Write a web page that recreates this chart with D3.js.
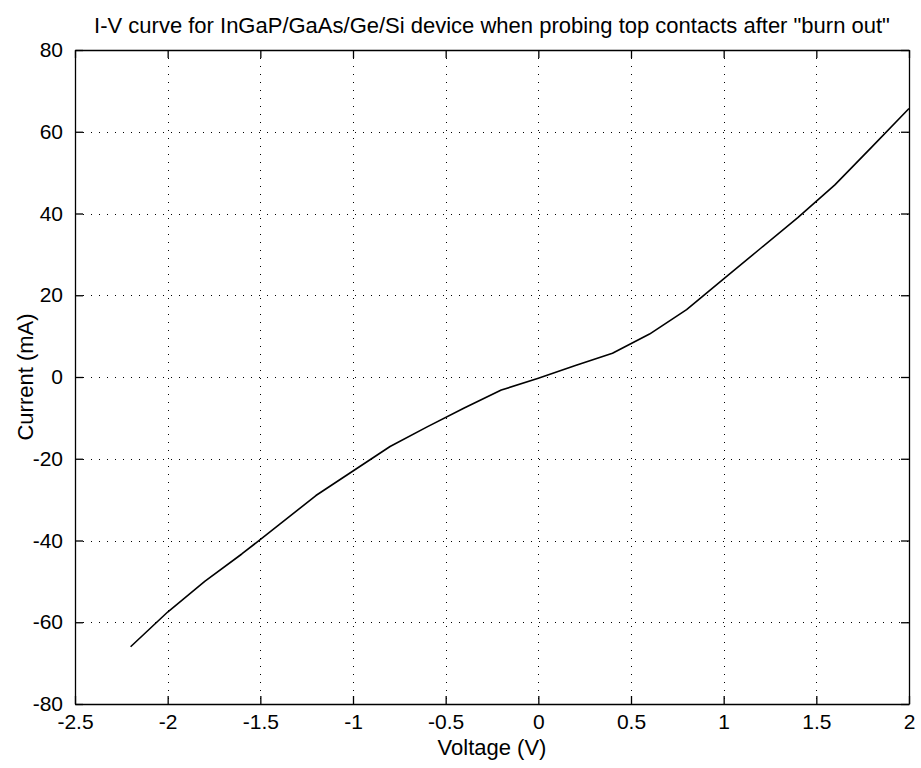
<!DOCTYPE html>
<html>
<head>
<meta charset="utf-8">
<script src="https://cdn.jsdelivr.net/npm/d3@7"></script>
<style>
  html, body { margin: 0; padding: 0; background: #fff; }
  svg { display: block; }
  text { font-family: "Liberation Sans", Arial, Helvetica, sans-serif; fill: #000; }
</style>
</head>
<body>
<svg id="chart" width="921" height="768"></svg>
<script>
// ---- data ----
const voltage = [-2.2, -2.0, -1.8, -1.6, -1.4, -1.2, -1.0, -0.8, -0.6, -0.4, -0.2, 0.0, 0.2, 0.4, 0.6, 0.8, 1.0, 1.2, 1.4, 1.6, 1.8, 2.0];
const current = [-66, -57.5, -50, -43.3, -36.2, -29, -23, -17, -12.2, -7.6, -3.2, -0.3, 2.8, 5.8, 10.5, 16.5, 24, 31.5, 39, 47, 56.3, 65.7];
const xTicks = [-2.5, -2, -1.5, -1, -0.5, 0, 0.5, 1, 1.5, 2];
const yTicks = [-80, -60, -40, -20, 0, 20, 40, 60, 80];
const titleText = 'I-V curve for InGaP/GaAs/Ge/Si device when probing top contacts after "burn out"';
const xLabel = "Voltage (V)";
const yLabel = "Current (mA)";

// ---- layout ----
const svg = d3.select("#chart");
const L = 75, R = 909, T = 50, B = 704;
const x = d3.scaleLinear().domain([-2.5, 2]).range([L, R]);
const y = d3.scaleLinear().domain([-80, 80]).range([B, T]);
const tickLen = 8;
const fs = 21;
const fmt = d => String(d);

// grid
const grid = svg.append("g").attr("stroke", "#000").attr("stroke-width", 1)
  .attr("stroke-dasharray", "1,7").attr("shape-rendering", "crispEdges");
grid.selectAll("line.v").data(xTicks.slice(1, -1)).join("line")
  .attr("x1", d => Math.round(x(d)) + 0.5).attr("x2", d => Math.round(x(d)) + 0.5)
  .attr("y1", T).attr("y2", B);
grid.selectAll("line.h").data(yTicks.slice(1, -1)).join("line")
  .attr("y1", d => Math.round(y(d)) + 0.5).attr("y2", d => Math.round(y(d)) + 0.5)
  .attr("x1", L).attr("x2", R);

// axes with inward ticks
const xAxisB = d3.axisBottom(x).tickValues(xTicks).tickSizeInner(-tickLen).tickSizeOuter(0).tickPadding(tickLen + 5).tickFormat(fmt);
const xAxisT = d3.axisTop(x).tickValues(xTicks).tickSizeInner(-tickLen).tickSizeOuter(0).tickFormat("");
const yAxisL = d3.axisLeft(y).tickValues(yTicks).tickSizeInner(-tickLen).tickSizeOuter(0).tickPadding(tickLen + 4).tickFormat(fmt);
const yAxisR = d3.axisRight(y).tickValues(yTicks).tickSizeInner(-tickLen).tickSizeOuter(0).tickFormat("");

function style(g) {
  g.selectAll("path").attr("stroke", "#000").attr("stroke-width", 1.3);
  g.selectAll("line").attr("stroke", "#000").attr("stroke-width", 1.3);
  g.selectAll("text").attr("font-size", fs).attr("fill", "#000")
    .style("font-family", '"Liberation Sans", Arial, sans-serif');
}
svg.append("g").attr("transform", `translate(0,${B})`).call(xAxisB).call(style)
  .selectAll("text").attr("dy", "0.55em");
svg.append("g").attr("transform", `translate(0,${T})`).call(xAxisT).call(style);
svg.append("g").attr("transform", `translate(${L},0)`).call(yAxisL).call(style);
svg.append("g").attr("transform", `translate(${R},0)`).call(yAxisR).call(style);

// data line
const pts = voltage.map((v, i) => [v, current[i]]);
svg.append("path").datum(pts)
  .attr("fill", "none").attr("stroke", "#000").attr("stroke-width", 1.6)
  .attr("stroke-linejoin", "round")
  .attr("d", d3.line().x(d => x(d[0])).y(d => y(d[1])));

// labels
svg.append("text").attr("x", (L + R) / 2).attr("y", 33).attr("text-anchor", "middle")
  .attr("font-size", 22).text(titleText);
svg.append("text").attr("x", (L + R) / 2).attr("y", 755).attr("text-anchor", "middle")
  .attr("font-size", 22).text(xLabel);
svg.append("text").attr("transform", `translate(33,${y(0)}) rotate(-90)`).attr("text-anchor", "middle")
  .attr("font-size", 22).text(yLabel);
</script>
</body>
</html>
